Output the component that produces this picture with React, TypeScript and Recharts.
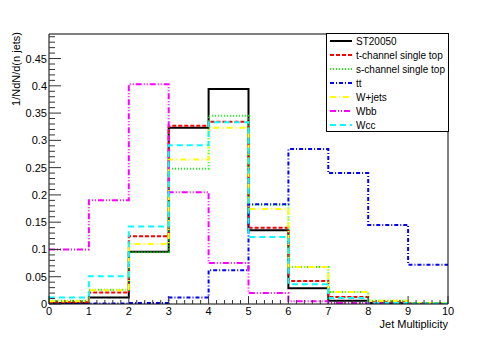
import { LineChart, Line, XAxis, YAxis, Legend } from "recharts";

// bin edges 0..10, one value per bin (10 bins)
const binEdges = [0, 1, 2, 3, 4, 5, 6, 7, 8, 9, 10];
const st20050 = [0.002, 0.012, 0.096, 0.323, 0.394, 0.135, 0.029, 0.006, 0.002, 0.001];
const tChannel = [0.003, 0.021, 0.124, 0.327, 0.334, 0.14, 0.042, 0.013, 0.003, 0.001];
const sChannel = [0.006, 0.026, 0.095, 0.248, 0.345, 0.182, 0.068, 0.022, 0.006, 0.002];
const ttbar = [0.0, 0.001, 0.002, 0.012, 0.062, 0.183, 0.284, 0.24, 0.145, 0.072];
const wJets = [0.005, 0.025, 0.11, 0.265, 0.323, 0.174, 0.068, 0.022, 0.006, 0.002];
const wbb = [0.1, 0.19, 0.403, 0.205, 0.075, 0.02, 0.005, 0.002, 0.001, 0.0];
const wcc = [0.012, 0.051, 0.142, 0.291, 0.333, 0.123, 0.036, 0.011, 0.002, 0.001];

const xTickLabels = ["0", "1", "2", "3", "4", "5", "6", "7", "8", "9", "10"];
const yTickLabels = ["0", "0.05", "0.1", "0.15", "0.2", "0.25", "0.3", "0.35", "0.4", "0.45"];

// minor tick positions (every 0.2 on x, every 0.01 on y)
const xTicks = Array.from({ length: 51 }, (_, i) => i / 5);
const yTicks = Array.from({ length: 50 }, (_, i) => i / 100);

const series = [
  { key: "st", name: "ST20050", vals: st20050, color: "#000000", dash: undefined, w: 2 },
  { key: "tch", name: "t-channel single top", vals: tChannel, color: "#ff0000", dash: "4 2", w: 2 },
  { key: "sch", name: "s-channel single top", vals: sChannel, color: "#00ff00", dash: "1 2", w: 2 },
  { key: "tt", name: "tt", vals: ttbar, color: "#0000ff", dash: "4 2 1 2", w: 2 },
  { key: "wj", name: "W+jets", vals: wJets, color: "#ffff00", dash: "6 3 1 3", w: 2 },
  { key: "wbb", name: "Wbb", vals: wbb, color: "#ff00ff", dash: "6 2 1 2 1 2", w: 2 },
  { key: "wcc", name: "Wcc", vals: wcc, color: "#00ffff", dash: "6 4", w: 2 },
];

const data = binEdges.map((x, i) => {
  const j = Math.min(i, 9);
  const row: Record<string, number> = { x };
  series.forEach((s) => (row[s.key] = s.vals[j]));
  return row;
});

const XTick = (props: any) => {
  const { x, y, payload } = props;
  const v = payload.value;
  const k = Math.round(v);
  const major = Math.abs(v - k) < 1e-6;
  return (
    <g>
      <line x1={x} x2={x} y1={y} y2={y - (major ? 8 : 4)} stroke="#333" />
      {major && (
        <text x={x} y={y + 11} textAnchor="middle" fontSize={11} fill="#000">
          {xTickLabels[k]}
        </text>
      )}
    </g>
  );
};

const YTick = (props: any) => {
  const { x, y, payload } = props;
  const v = payload.value;
  const k = Math.round(v * 20);
  const major = Math.abs(v * 20 - k) < 1e-6;
  return (
    <g>
      <line x1={x} x2={x + (major ? 12 : 6)} y1={y} y2={y} stroke="#333" />
      {major && (
        <text x={x - 2} y={y + 4} textAnchor="end" fontSize={11} fill="#000">
          {yTickLabels[k]}
        </text>
      )}
    </g>
  );
};

const LegendBox = () => (
  <div
    style={{
      border: "1px solid #000",
      background: "#fff",
      width: 123,
      height: 99,
      boxSizing: "border-box",
      paddingLeft: 3,
      fontSize: 10,
      color: "#000",
    }}
  >
    {series.map((s) => (
      <div key={s.key} style={{ display: "flex", alignItems: "center", height: 14 }}>
        <svg width={22} height={4} style={{ display: "block" }}>
          <line x1={0} x2={22} y1={2} y2={2} stroke={s.color} strokeWidth={s.w} strokeDasharray={s.dash} />
        </svg>
        <span style={{ marginLeft: 4, whiteSpace: "nowrap" }}>{s.name}</span>
      </div>
    ))}
  </div>
);

export default function App() {
  return (
    <div
      style={{
        position: "absolute",
        left: 0,
        top: 0,
        width: 498,
        height: 338,
        background: "#fff",
        fontFamily: '"Liberation Sans", Arial, sans-serif',
      }}
    >
      <LineChart width={498} height={338} data={data} margin={{ top: 34, right: 50, bottom: 0, left: 0 }}>
        <XAxis
          xAxisId="main"
          dataKey="x"
          type="number"
          domain={[0, 10]}
          ticks={xTicks}
          interval={0}
          height={34}
          tickSize={0}
          tickMargin={0}
          tickLine={false}
          axisLine={{ stroke: "#000" }}
          tick={XTick}
          label={(p: any) => {
            const vb = p.viewBox;
            return (
              <text x={vb.x + vb.width} y={vb.y + 24} textAnchor="end" fontSize={11} fill="#000">
                Jet Multiplicity
              </text>
            );
          }}
        />
        <XAxis
          xAxisId="top"
          orientation="top"
          type="number"
          domain={[0, 10]}
          mirror
          height={1}
          tick={false}
          tickLine={false}
          axisLine={{ stroke: "#000" }}
        />
        <YAxis
          yAxisId="main"
          type="number"
          domain={[0, 0.495]}
          allowDataOverflow
          ticks={yTicks}
          interval={0}
          width={49}
          tickSize={0}
          tickMargin={0}
          tickLine={false}
          axisLine={{ stroke: "#000" }}
          tick={YTick}
          label={(p: any) => {
            const vb = p.viewBox;
            const tx = vb.x + 20;
            const ty = vb.y - 2;
            return (
              <text x={tx} y={ty} textAnchor="end" fontSize={11} fill="#000" transform={`rotate(-90, ${tx}, ${ty})`}>
                1/NdN/d(n jets)
              </text>
            );
          }}
        />
        <YAxis
          yAxisId="right"
          orientation="right"
          type="number"
          domain={[0, 0.495]}
          mirror
          width={1}
          tick={false}
          tickLine={false}
          axisLine={{ stroke: "#000" }}
        />
        {series.map((s) => (
          <Line
            key={s.key}
            xAxisId="main"
            yAxisId="main"
            dataKey={s.key}
            name={s.name}
            type="stepAfter"
            stroke={s.color}
            strokeWidth={s.w}
            strokeDasharray={s.dash}
            dot={false}
            activeDot={false}
            isAnimationActive={false}
          />
        ))}
        <Legend
          layout="vertical"
          align="center"
          verticalAlign="middle"
          content={LegendBox}
          wrapperStyle={{ left: 326, top: 33, width: "auto", height: "auto" }}
        />
      </LineChart>
    </div>
  );
}
